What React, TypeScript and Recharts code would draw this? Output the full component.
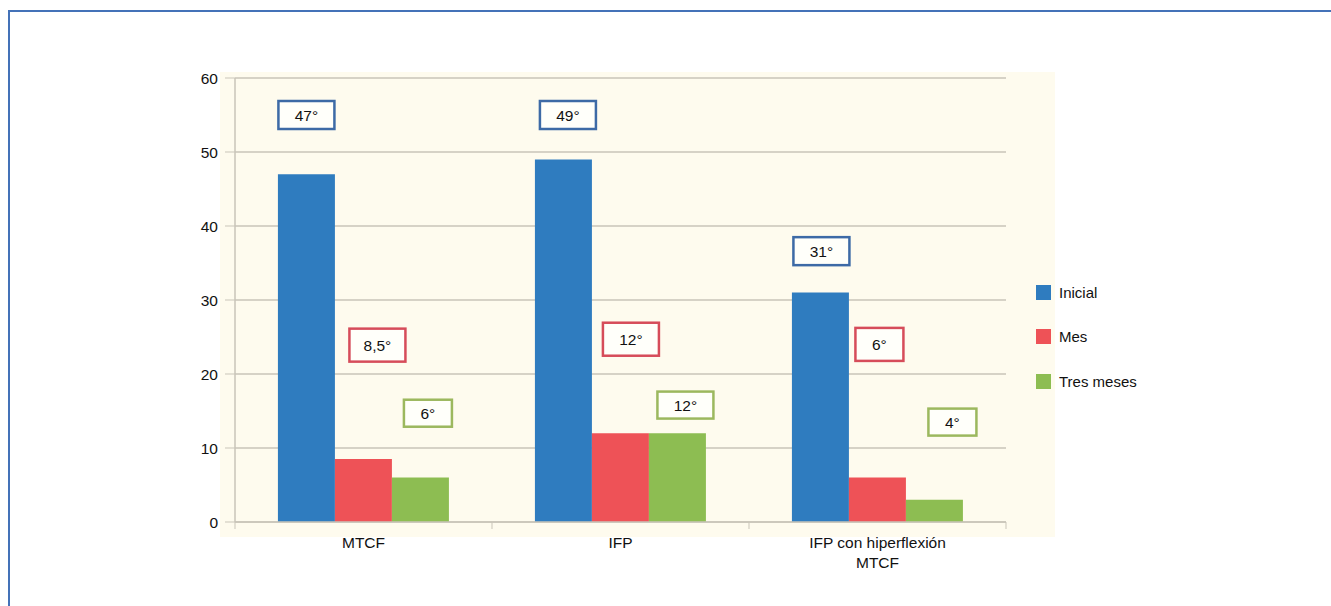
import React from "react";
import { BarChart, Bar, XAxis, YAxis, CartesianGrid, LabelList } from "recharts";

// datos
const categories = ["MTCF", "IFP", "IFP con hiperflexión\nMTCF"];
const inicial = [47, 49, 31];
const mes = [8.5, 12, 6];
const tresMeses = [6, 12, 3];
const yTicks = [0, 10, 20, 30, 40, 50, 60];

// textos de las cajas
const inicialText = ["47°", "49°", "31°"];
const mesText = ["8,5°", "12°", "6°"];
const tresText = ["6°", "12°", "4°"];

// altura (en grados) donde va centrada cada caja
const inicialAt = [55, 55, 36.6];
const mesAt = [23.9, 24.7, 24];
const tresAt = [14.7, 15.8, 13.5];

const BLUE = "#2f7cbf";
const RED = "#ee5257";
const GREEN = "#8dbd52";
const GRID = "#c9c5b9";
const INK = "#111";
const FONT = "'Liberation Sans', Arial, sans-serif";
const FS = 15.5;

const PLOT_LEFT = 235;
const PLOT_RIGHT = 1006;
const HALF_BAND = (PLOT_RIGHT - PLOT_LEFT) / categories.length / 2;

const data = categories.map((name, i) => ({
  name,
  inicial: inicial[i],
  mes: mes[i],
  tresMeses: tresMeses[i],
}));

function makeBox(texts: string[], at: number[], dx: number[], stroke: string, h: number) {
  return (props: any) => {
    const vb = props.viewBox || {};
    const x = props.x ?? vb.x;
    const y = props.y ?? vb.y;
    const width = props.width ?? vb.width;
    const height = props.height ?? vb.height;
    const value = Number(props.value);
    const i = props.index;
    if (!value || x == null) return null;
    const zero = y + height;
    const perUnit = height / value;
    const cy = zero - at[i] * perUnit;
    const cx = x + width / 2 + dx[i];
    const text = texts[i];
    const w = text.length > 2 ? 56 : 48;
    return (
      <g>
        <rect x={cx - w / 2} y={cy - h / 2} width={w} height={h} fill="#fffffa" stroke={stroke} strokeWidth={2.5} />
        <text x={cx} y={cy} textAnchor="middle" dominantBaseline="central" fontSize={FS} fontFamily={FONT} fill={INK}>
          {text}
        </text>
      </g>
    );
  };
}

const CategoryTick = (props: any) => {
  const { x, y, payload, index } = props;
  const lines = String(payload.value).split("\n");
  return (
    <g>
      <line x1={x - HALF_BAND} y1={y - 8} x2={x - HALF_BAND} y2={y - 1} stroke={GRID} />
      {index === categories.length - 1 && (
        <line x1={x + HALF_BAND} y1={y - 8} x2={x + HALF_BAND} y2={y - 1} stroke={GRID} />
      )}
      {lines.map((l, k) => (
        <text key={k} x={x} y={y + 18 + k * 20} textAnchor="middle" fontSize={FS} fontFamily={FONT} fill={INK}>
          {l}
        </text>
      ))}
    </g>
  );
};

const legendItems = [
  { label: "Inicial", color: BLUE },
  { label: "Mes", color: RED },
  { label: "Tres meses", color: GREEN },
];

export default function App() {
  return (
    <div style={{ position: "absolute", left: 0, top: 0, width: 1331, height: 606, background: "#fff", overflow: "hidden" }}>
      <div style={{ position: "absolute", left: 8, top: 10, right: 0, bottom: 0, borderTop: "2px solid #4472b8", borderLeft: "2px solid #4472b8" }} />
      <div style={{ position: "absolute", left: 220, top: 72, width: 835, height: 465, background: "#fefbee" }} />
      <div style={{ position: "absolute", left: 0, top: 0 }}>
        <BarChart
          width={1331}
          height={606}
          data={data}
          margin={{ top: 78, right: 1331 - PLOT_RIGHT, bottom: 44, left: 0 }}
          barGap={0}
          barCategoryGap="16.7%"
        >
          <CartesianGrid vertical={false} stroke={GRID} strokeWidth={1.5} />
          <XAxis
            dataKey="name"
            axisLine={{ stroke: GRID, strokeWidth: 1.5 }}
            tickLine={false}
            tick={<CategoryTick />}
            height={40}
            interval={0}
          />
          <YAxis
            width={PLOT_LEFT}
            domain={[0, 60]}
            ticks={yTicks}
            axisLine={{ stroke: GRID, strokeWidth: 1.5 }}
            tickLine={{ stroke: GRID }}
            tickSize={10}
            tickMargin={7}
            tick={{ fontSize: FS, fontFamily: FONT, fill: INK }}
          />
          <Bar dataKey="inicial" name="Inicial" fill={BLUE} isAnimationActive={false}>
            <LabelList dataKey="inicial" content={makeBox(inicialText, inicialAt, [0, 4.5, 1], "#3d6aa6", 28)} />
          </Bar>
          <Bar dataKey="mes" name="Mes" fill={RED} isAnimationActive={false}>
            <LabelList dataKey="mes" content={makeBox(mesText, mesAt, [14, 10.5, 2], "#d64c5a", 33)} />
          </Bar>
          <Bar dataKey="tresMeses" name="Tres meses" fill={GREEN} isAnimationActive={false}>
            <LabelList dataKey="tresMeses" content={makeBox(tresText, tresAt, [7.5, 8, 18], "#9cb85e", 27)} />
          </Bar>
        </BarChart>
      </div>
      <div style={{ position: "absolute", left: 1036, top: 270, fontFamily: FONT, fontSize: 15, color: INK }}>
        {legendItems.map((it) => (
          <div key={it.label} style={{ display: "flex", alignItems: "center", height: 44.5 }}>
            <span style={{ width: 15, height: 15, background: it.color, display: "inline-block", marginRight: 8 }} />
            {it.label}
          </div>
        ))}
      </div>
    </div>
  );
}
